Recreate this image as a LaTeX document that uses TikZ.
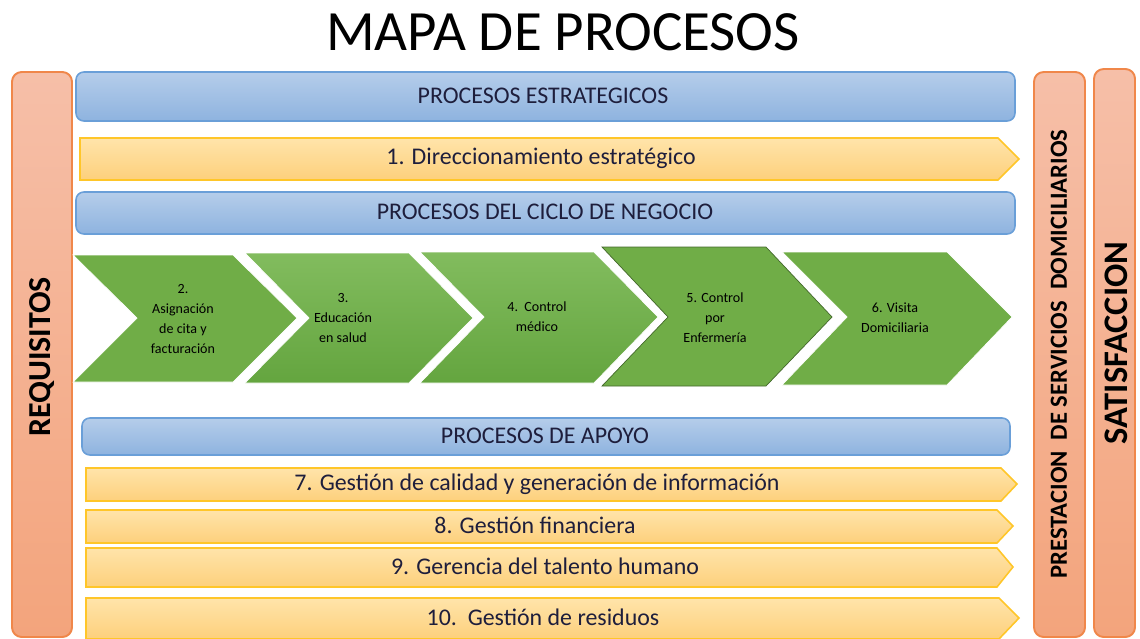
\documentclass[tikz,border=0pt]{standalone}
\usepackage{fontspec}
\setmainfont{Carlito}
\usetikzlibrary{positioning}

\definecolor{sidetop}{HTML}{F6BFA8}
\definecolor{sidebot}{HTML}{F3A47C}
\definecolor{sideedge}{HTML}{F0874A}
\definecolor{headtop}{HTML}{B5CDEA}
\definecolor{headbot}{HTML}{8EB3DF}
\definecolor{headedge}{HTML}{6A9FD8}
\definecolor{subtop}{HTML}{FFE4AA}
\definecolor{subbot}{HTML}{FDD07C}
\definecolor{subedge}{HTML}{FFC629}
\definecolor{stagegreen}{HTML}{70AD47}
\definecolor{stagetop}{HTML}{82BC5E}
\definecolor{stagebot}{HTML}{64A53F}
\definecolor{headink}{HTML}{1E1E3C}

\begin{document}
\begin{tikzpicture}[x=0.02cm, y=-0.02cm,
  every node/.style={inner sep=0pt, align=center},
  sidebar/.style={draw=sideedge, line width=1.1pt, rounded corners=5.5pt, top color=sidetop, bottom color=sidebot},
  headbar/.style={draw=headedge, line width=0.9pt, rounded corners=4.5pt, top color=headtop, bottom color=headbot},
  subarrow/.style={draw=subedge, line width=0.9pt, top color=subtop, bottom color=subbot},
  stage/.style={fill=stagegreen, draw=white, line width=0.4pt},
  stagelit/.style={top color=stagetop, bottom color=stagebot, draw=white, line width=0.4pt},
  headtext/.style={text=headink, font=\fontsize{13.6}{16}\selectfont},
  stagetext/.style={font=\fontsize{8}{11.3}\selectfont},
  sidetext/.style={rotate=90, font=\bfseries\fontsize{18.2}{20}\selectfont}]
  \useasboundingbox (0,0) rectangle (1140,639);
  % title
  \node (title) at (563,32) {\fontsize{32.4}{36}\selectfont MAPA DE PROCESOS};
  % side bars
  \path[sidebar] (12,72) rectangle (72,637);
  \node[sidetext] (req) at (42,357) {REQUISITOS};
  \path[sidebar] (1034,72) rectangle (1085,637);
  \node[sidetext, font=\bfseries\fontsize{14}{16}\selectfont] (prest) at (1059,354) {PRESTACION\ \ DE SERVICIOS\ \ DOMICILIARIOS};
  \path[sidebar] (1094,69) rectangle (1135,637);
  \node[sidetext, font=\bfseries\fontsize{19.6}{22}\selectfont] (satis) at (1116,343) {SATISFACCION};
  % strategic processes
  \path[headbar] (76,72) rectangle (1015,121);
  \node[headtext] (strat) at (543,96) {PROCESOS ESTRATEGICOS};
  \path[subarrow] (80,138) -- (998,138) -- (1019,159) -- (998,180) -- (80,180) -- cycle;
  \node[headtext] (dir) at (541,158) {1. Direccionamiento estratégico};
  % business cycle
  \path[headbar] (76,192) rectangle (1015,234);
  \node[headtext] (ciclo) at (545,212) {PROCESOS DEL CICLO DE NEGOCIO};
  \path[stage] (73,255) -- (233,255) -- (297,318) -- (233,382) -- (73,382) -- (137,318) -- cycle;
  \node[stagetext] (c2) at (183,319) {2.\\Asignación\\de cita y\\facturación};
  \path[stagelit] (245,253) -- (409,253) -- (473,318) -- (409,383) -- (245,383) -- (309,318) -- cycle;
  \node[stagetext] (c3) at (343,318) {3.\\Educación\\en salud};
  \path[stagelit] (420,252) -- (594,252) -- (658,317) -- (594,383) -- (420,383) -- (484,317) -- cycle;
  \node[stagetext] (c4) at (537,317) {4.\ \ Control\\médico};
  \path[stage, draw=stagegreen!60!black] (602,247) -- (766,247) -- (832,317) -- (766,386) -- (602,386) -- (668,317) -- cycle;
  \node[stagetext] (c5) at (715,318) {5. Control\\por\\Enfermería};
  \path[stage] (782,252) -- (947,252) -- (1012,317) -- (947,385) -- (782,385) -- (847,317) -- cycle;
  \node[stagetext] (c6) at (895,318) {6. Visita\\Domiciliaria};
  % support processes
  \path[headbar] (82,418) rectangle (1010,455);
  \node[headtext] (apoyo) at (545,436) {PROCESOS DE APOYO};
  \path[subarrow] (86,468) -- (1001,468) -- (1017,484) -- (1001,501) -- (86,501) -- cycle;
  \node[headtext] (g7) at (537,484) {7. Gestión de calidad y generación de información};
  \path[subarrow] (86,510) -- (997,510) -- (1013,526) -- (997,543) -- (86,543) -- cycle;
  \node[headtext] (g8) at (535,525) {8. Gestión financiera};
  \path[subarrow] (86,548) -- (997,548) -- (1013,567) -- (997,587) -- (86,587) -- cycle;
  \node[headtext] (g9) at (545,566) {9. Gerencia del talento humano};
  \path[subarrow] (86,598) -- (999,598) -- (1019,618) -- (999,639) -- (86,639) -- cycle;
  \node[headtext] (g10) at (543,617) {10.\ \ Gestión de residuos};
\end{tikzpicture}
\end{document}
